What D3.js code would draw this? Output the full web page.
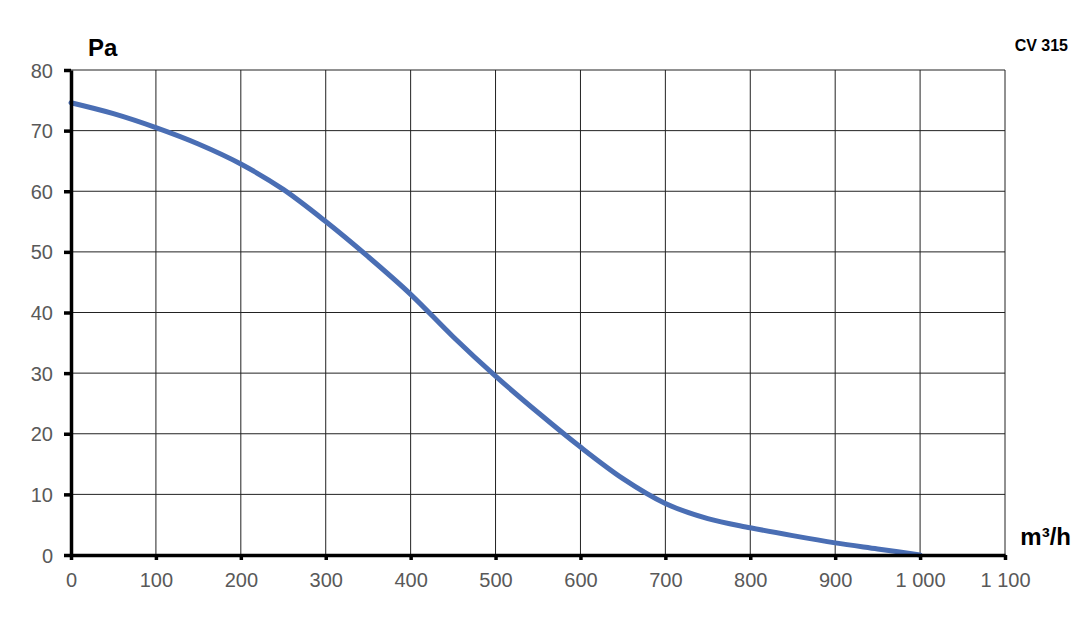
<!DOCTYPE html>
<html><head><meta charset="utf-8">
<script src="https://cdn.jsdelivr.net/npm/d3@7"></script>
<style>body{margin:0;background:#fff}svg{display:block}text{font-family:"Liberation Sans",Arial,sans-serif}</style>
</head><body>
<svg id="c" width="1083" height="625"></svg>
<script>
const flow = [0,50,100,150,200,250,300,350,400,450,500,550,600,650,700,750,800,850,900,950,1000];
const pressure = [74.6,72.8,70.5,67.8,64.5,60.3,55,49.2,43,36,29.5,23.5,17.8,12.6,8.5,6,4.5,3.2,2,1,0];
const xTicks = [0,100,200,300,400,500,600,700,800,900,1000,1100];
const xTickLabels = ["0","100","200","300","400","500","600","700","800","900","1 000","1 100"];
const yTicks = [0,10,20,30,40,50,60,70,80];

const svg = d3.select("#c");
const L=71,R=1005,T=70,B=555;
const x = d3.scaleLinear().domain([0,1100]).range([L,R]);
const y = d3.scaleLinear().domain([0,80]).range([B,T]);

const g = svg.append("g");
g.selectAll(".vg").data(xTicks.slice(1)).enter().append("line")
 .attr("x1",d=>x(d)).attr("x2",d=>x(d)).attr("y1",T).attr("y2",B)
 .attr("stroke","#222").attr("stroke-width",1);
g.selectAll(".hg").data(yTicks.slice(1)).enter().append("line")
 .attr("x1",L).attr("x2",R).attr("y1",d=>y(d)).attr("y2",d=>y(d))
 .attr("stroke","#222").attr("stroke-width",1);

const line = d3.line().x((d,i)=>x(flow[i])).y(d=>y(d)).curve(d3.curveMonotoneX);
svg.append("path").datum(pressure).attr("d",line).attr("fill","none")
 .attr("stroke","#4a6eb4").attr("stroke-width",5).attr("stroke-linecap","round");

const xa = svg.append("g").attr("transform",`translate(0,${B})`)
 .call(d3.axisBottom(x).tickValues(xTicks).tickSize(5).tickSizeOuter(0).tickFormat((d,i)=>xTickLabels[i]));
const ya = svg.append("g").attr("transform",`translate(${L},0)`)
 .call(d3.axisLeft(y).tickValues(yTicks).tickSize(7).tickSizeOuter(0));
[xa,ya].forEach(a=>{
 a.select(".domain").attr("stroke","#000").attr("stroke-width",3.5);
 a.selectAll(".tick line").attr("stroke","#000").attr("stroke-width",3.5);
 a.selectAll(".tick text").attr("fill","#595959").attr("font-size",20).attr("font-family","Liberation Sans, Arial, sans-serif");
});
xa.selectAll(".tick text").attr("dy","0").attr("y",32);
ya.selectAll(".tick text").attr("x",-18).attr("dy","0.35em");

svg.append("text").attr("x",88).attr("y",56).attr("font-size",24).attr("font-weight","bold").text("Pa");
svg.append("text").attr("x",1071).attr("y",545).attr("text-anchor","end").attr("font-size",24).attr("font-weight","bold").text("m³/h");
svg.append("text").attr("x",1068).attr("y",51).attr("text-anchor","end").attr("font-size",16).attr("font-weight","bold").text("CV 315");
</script>
</body></html>
